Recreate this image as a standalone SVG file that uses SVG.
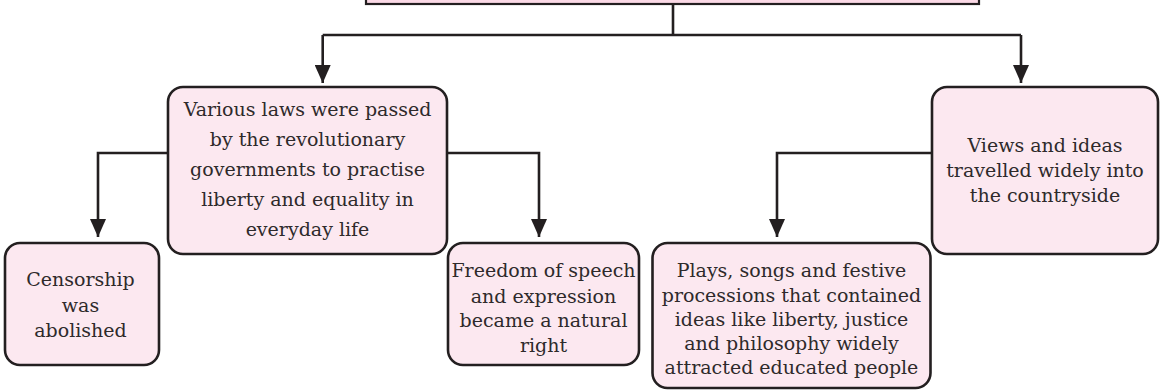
<svg xmlns="http://www.w3.org/2000/svg" width="1161" height="390" viewBox="0 0 1161 390">
<style>
.box{fill:#fce8f0;stroke:#231f20;stroke-width:2.6}
.top{fill:#fbd9e6;stroke:#231f20;stroke-width:2.2}
.t{font-family:"DejaVu Serif","Liberation Serif",serif;font-size:19px;fill:#2e2a2b;text-anchor:middle}
.c{fill:none;stroke:#231f20;stroke-width:2.6}
</style>
<defs>
<marker id="ah" markerUnits="userSpaceOnUse" markerWidth="16" markerHeight="18" viewBox="0 0 16 18" refX="8" refY="18" orient="0">
<path d="M0 0 L16 0 L8 18 Z" fill="#231f20"/>
</marker>
</defs>
<rect width="1161" height="390" fill="#ffffff"/>
<g id="top-node"><rect class="top" x="366" y="-20" width="613" height="24"/></g>
<g id="connectors">
<path class="c" d="M673 4 V35"/>
<path class="c" d="M322.7 35 H1021"/>
<path class="c" d="M322.7 35 V83" marker-end="url(#ah)"/>
<path class="c" d="M1021 35 V83" marker-end="url(#ah)"/>
<path class="c" d="M168 153 H98 V237" marker-end="url(#ah)"/>
<path class="c" d="M447 153 H539 V237" marker-end="url(#ah)"/>
<path class="c" d="M932 153 H777 V237" marker-end="url(#ah)"/>
</g>
<g id="laws">
<rect class="box" x="168" y="87" width="279" height="167" rx="15"/>
<text class="t" x="307.5" y="116">Various laws were passed</text>
<text class="t" x="307.5" y="146">by the revolutionary</text>
<text class="t" x="307.5" y="176">governments to practise</text>
<text class="t" x="307.5" y="206">liberty and equality in</text>
<text class="t" x="307.5" y="236">everyday life</text>
</g>
<g id="views">
<rect class="box" x="932" y="87" width="226" height="167" rx="15"/>
<text class="t" x="1045" y="152">Views and ideas</text>
<text class="t" x="1045" y="177">travelled widely into</text>
<text class="t" x="1045" y="202">the countryside</text>
</g>
<g id="censorship">
<rect class="box" x="5" y="243" width="154" height="122" rx="15"/>
<text class="t" x="80.5" y="286">Censorship</text>
<text class="t" x="80.5" y="311.5">was</text>
<text class="t" x="80.5" y="337">abolished</text>
</g>
<g id="freedom">
<rect class="box" x="448" y="243" width="191" height="122" rx="15"/>
<text class="t" x="543.5" y="277">Freedom of speech</text>
<text class="t" x="543.5" y="302.5">and expression</text>
<text class="t" x="543.5" y="327">became a natural</text>
<text class="t" x="543.5" y="352">right</text>
</g>
<g id="plays">
<rect class="box" x="652.5" y="243" width="278" height="145" rx="15"/>
<text class="t" x="791.5" y="277">Plays, songs and festive</text>
<text class="t" x="791.5" y="301.5">processions that contained</text>
<text class="t" x="791.5" y="325.5">ideas like liberty, justice</text>
<text class="t" x="791.5" y="349.5">and philosophy widely</text>
<text class="t" x="791.5" y="373.5">attracted educated people</text>
</g>
</svg>
